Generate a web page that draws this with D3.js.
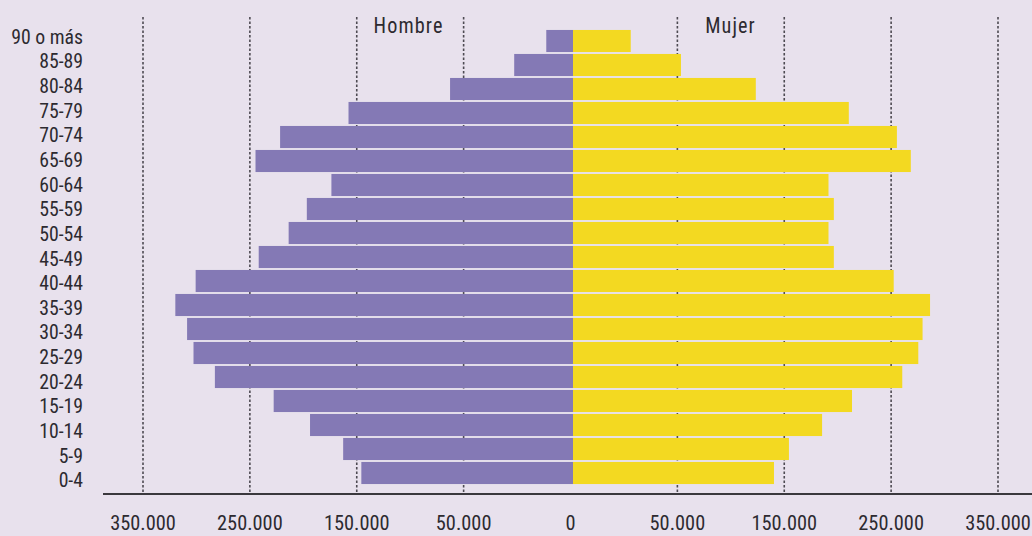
<!DOCTYPE html>
<html>
<head>
<meta charset="utf-8">
<script src="https://cdn.jsdelivr.net/npm/d3@7"></script>
<style>
  html, body { margin: 0; padding: 0; background: #E8E1ED; }
  svg { display: block; }
  text { font-family: "Roboto Condensed", "Liberation Sans Narrow", sans-serif; fill: #2d2a30; }
</style>
</head>
<body>
<svg id="chart" width="1032" height="536"></svg>
<script>
// Age groups, top to bottom
const ageGroups = ["90 o más","85-89","80-84","75-79","70-74","65-69","60-64","55-59","50-54","45-49",
                   "40-44","35-39","30-34","25-29","20-24","15-19","10-14","5-9","0-4"];
// Population values
const hombres = [25000,55000,115000,210000,274000,297000,226000,249000,266000,294000,
                 353000,372000,361000,355000,335000,280000,246000,215000,198000];
const mujeres = [54000,101000,171000,258000,303000,316000,239000,244000,239000,244000,
                 300000,334000,327000,323000,308000,261000,233000,202000,188000];
// Gridline positions (one step per gridline) and the labels printed under them
const gridValues = [-400000,-300000,-200000,-100000,0,100000,200000,300000,400000];
const tickLabels = ["350.000","250.000","150.000","50.000","0","50.000","150.000","250.000","350.000"];
const seriesNames = ["Hombre","Mujer"];

const W = 1032, H = 536;
const svg = d3.select("#chart");
svg.append("rect").attr("width", W).attr("height", H).attr("fill", "#E8E1ED");

// scales
const gridX = d3.scaleLinear().domain([-400000, 400000]).range([143, 998]);
const barW = d3.scaleLinear().domain([0, 400000]).range([0, 427.6]);
const center = 573;
const yBar = d3.scaleBand().domain(ageGroups).range([29, 485]).paddingInner(0.08).paddingOuter(0.04);
const yLab = d3.scaleBand().domain(ageGroups).range([23.7, 492.3]);

// gridlines (zero hidden beneath bars)
svg.append("g").selectAll("line").data(gridValues.filter(v => v !== 0)).join("line")
  .attr("x1", d => gridX(d)).attr("x2", d => gridX(d))
  .attr("y1", 17).attr("y2", 494)
  .attr("stroke", "#4d4a52").attr("stroke-width", 1.6)
  .attr("stroke-dasharray", "2.5,2");

// bars
svg.append("g").selectAll("rect").data(ageGroups).join("rect")
  .attr("x", (d, i) => center - barW(hombres[i]))
  .attr("y", d => yBar(d))
  .attr("width", (d, i) => barW(hombres[i]))
  .attr("height", yBar.bandwidth())
  .attr("fill", "#8479B5");
svg.append("g").selectAll("rect").data(ageGroups).join("rect")
  .attr("x", center)
  .attr("y", d => yBar(d))
  .attr("width", (d, i) => barW(mujeres[i]))
  .attr("height", yBar.bandwidth())
  .attr("fill", "#F3D921");

// baseline axis line
svg.append("line").attr("x1", 103).attr("x2", W).attr("y1", 494).attr("y2", 494)
  .attr("stroke", "#3a383d").attr("stroke-width", 2);

// x tick labels
svg.append("g").selectAll("text").data(gridValues).join("text")
  .attr("transform", d => `translate(${gridX(d)},530) scale(0.97,1)`)
  .attr("text-anchor", "middle").attr("font-size", 21)
  .text((d, i) => tickLabels[i]);

// age labels
svg.append("g").selectAll("text").data(ageGroups).join("text")
  .attr("transform", d => `translate(83,${yLab(d) + yLab.bandwidth() / 2 + 7.5}) scale(0.94,1)`)
  .attr("text-anchor", "end").attr("font-size", 21)
  .text(d => d);

// series titles
svg.append("text").attr("transform", "translate(408.5,33) scale(0.92,1)").attr("text-anchor", "middle")
  .attr("font-size", 22).attr("letter-spacing", 1.2).text(seriesNames[0]);
svg.append("text").attr("transform", "translate(730.5,33) scale(0.92,1)").attr("text-anchor", "middle")
  .attr("font-size", 22).attr("letter-spacing", 1.2).text(seriesNames[1]);
</script>
</body>
</html>
